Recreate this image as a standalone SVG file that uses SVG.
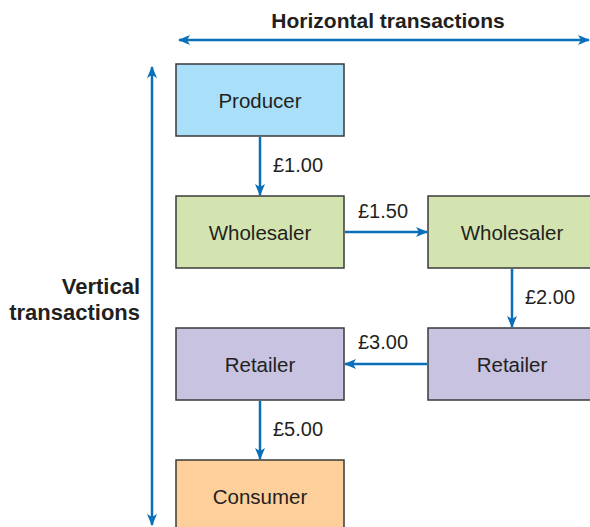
<svg xmlns="http://www.w3.org/2000/svg" width="590" height="527" viewBox="0 0 590 527">
<style>
.box{stroke:#3a3a3a;stroke-width:1.5}
.t{font-family:"Liberation Sans",Arial,sans-serif;font-size:20.5px;fill:#231f20}
.l{font-family:"Liberation Sans",Arial,sans-serif;font-size:20px;fill:#231f20}
.b{font-family:"Liberation Sans",Arial,sans-serif;font-size:21px;font-weight:bold;fill:#231f20}
.c{stroke:#0a6fb8;stroke-width:2.5;fill:none}
</style>
<defs>
<marker id="ah" viewBox="0 0 12 10" refX="11" refY="5" markerWidth="12" markerHeight="10" markerUnits="userSpaceOnUse" orient="auto-start-reverse">
<path d="M0,0 L12,5 L0,10 L3,5 Z" fill="#0a6fb8"/>
</marker>
</defs>
<g id="axes">
<line class="c" x1="179" y1="40" x2="589" y2="40" marker-start="url(#ah)" marker-end="url(#ah)"/>
<text class="b" x="388" y="28" text-anchor="middle">Horizontal transactions</text>
<line class="c" x1="152" y1="67" x2="152" y2="525" marker-start="url(#ah)" marker-end="url(#ah)"/>
<text class="b" x="140" y="294" text-anchor="end" style="font-size:22px">Vertical</text>
<text class="b" x="140" y="320" text-anchor="end" style="font-size:22px">transactions</text>
</g>
<g id="producer">
<rect class="box" x="176" y="64" width="168" height="72" fill="#a9dff8"/>
<text class="t" x="260" y="108" text-anchor="middle">Producer</text>
</g>
<g id="wholesaler1">
<rect class="box" x="176" y="196" width="168" height="72" fill="#d3e4b1"/>
<text class="t" x="260" y="240" text-anchor="middle">Wholesaler</text>
</g>
<g id="wholesaler2">
<rect class="box" x="428" y="196" width="170" height="72" fill="#d3e4b1"/>
<text class="t" x="512" y="240" text-anchor="middle">Wholesaler</text>
</g>
<g id="retailer2">
<rect class="box" x="428" y="328" width="170" height="72" fill="#c7c3e1"/>
<text class="t" x="512" y="372" text-anchor="middle">Retailer</text>
</g>
<g id="retailer1">
<rect class="box" x="176" y="328" width="168" height="72" fill="#c7c3e1"/>
<text class="t" x="260" y="372" text-anchor="middle">Retailer</text>
</g>
<g id="consumer">
<rect class="box" x="176" y="460" width="168" height="72" fill="#fdd09b"/>
<text class="t" x="260" y="504" text-anchor="middle">Consumer</text>
</g>
<g id="connectors">
<line class="c" x1="260" y1="137" x2="260" y2="195" marker-end="url(#ah)"/>
<text class="l" x="273" y="172">£1.00</text>
<line class="c" x1="345" y1="232" x2="427" y2="232" marker-end="url(#ah)"/>
<text class="l" x="358" y="218">£1.50</text>
<line class="c" x1="512" y1="269" x2="512" y2="327" marker-end="url(#ah)"/>
<text class="l" x="525" y="304">£2.00</text>
<line class="c" x1="427" y1="364" x2="345" y2="364" marker-end="url(#ah)"/>
<text class="l" x="358" y="349">£3.00</text>
<line class="c" x1="260" y1="401" x2="260" y2="459" marker-end="url(#ah)"/>
<text class="l" x="273" y="436">£5.00</text>
</g>
</svg>
